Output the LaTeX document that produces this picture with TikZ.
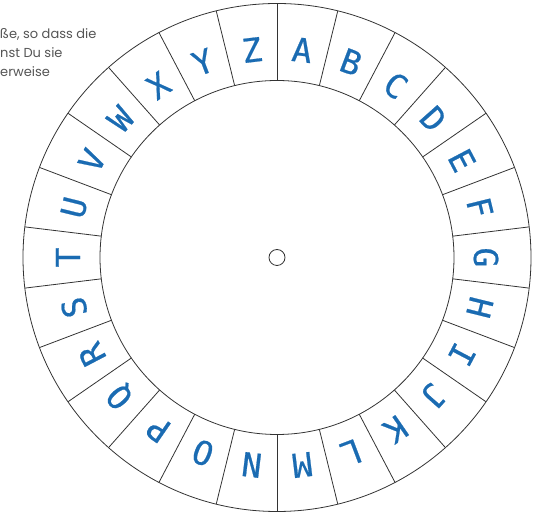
\documentclass[tikz,border=0pt]{standalone}
\usepackage{fontspec}
\setmainfont{Open Sans}
\newfontfamily\letterfont{DejaVu Sans Mono}[FakeBold=0.6]
\newfontfamily\notefont{Poppins}
\usepackage{xcolor}

\definecolor{letterblue}{HTML}{1A6BB2}
\definecolor{notegray}{HTML}{555555}
\definecolor{rimgray}{HTML}{333333}

\begin{document}
\begin{tikzpicture}[x=1pt,y=1pt,
  rim/.style={draw=rimgray,line width=0.8pt},
  letter/.style={text=letterblue,inner sep=0pt,font=\letterfont\fontsize{33}{33}\selectfont},
  note/.style={text=notegray,inner sep=0pt,anchor=base west,font=\notefont\fontsize{13}{13}\selectfont}]
\useasboundingbox (0,0) rectangle (539,514);
\coordinate (c) at (277,256.5);
% wheel
\draw[rim] (c) circle (254);
\draw[rim] (c) circle (177);
\draw[rim] (c) circle (8);
\foreach \k in {0,...,25}
  \draw[rim] ([shift={(90-\k*360/26:177)}]c) -- ([shift={(90-\k*360/26:254)}]c);
% letters
\foreach \l [count=\i from 0, evaluate=\i as \a using 90-(\i+0.5)*360/26] in {A,B,C,D,E,F,G,H,I,J,K,L,M,N,O,P,Q,R,S,T,U,V,W,X,Y,Z}
  \node[letter,rotate=\a-90] (l\l) at ([shift={(\a:209)}]c) {\l};
% cut-off text
\node[note] (note1) at (0,475) {ße, so dass die};
\node[note] (note2) at (0,456) {nst Du sie};
\node[note] (note3) at (0,437) {erweise};
\end{tikzpicture}
\end{document}
